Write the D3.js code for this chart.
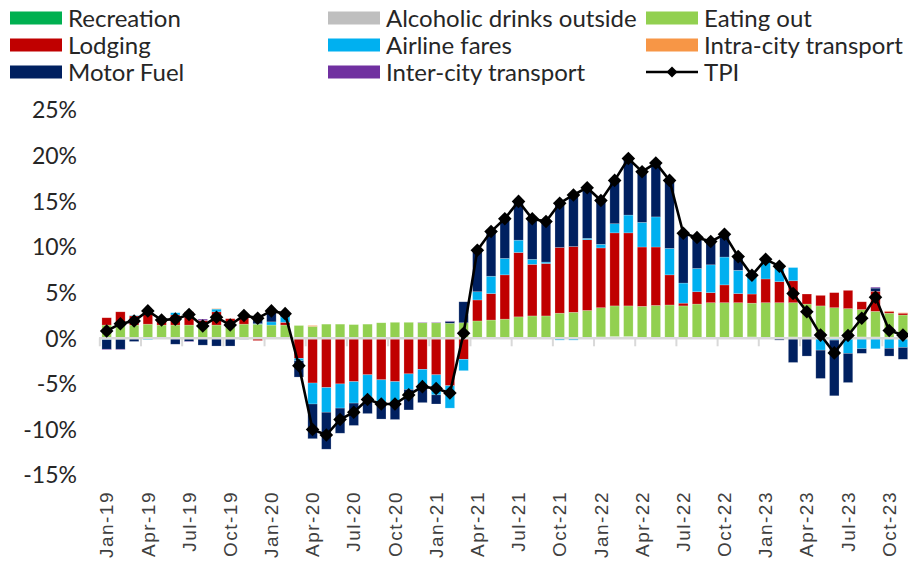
<!DOCTYPE html>
<html>
<head>
<meta charset="utf-8">
<script src="https://cdn.jsdelivr.net/npm/d3@7"></script>
<style>
  body { margin: 0; background: #fff; }
  svg { display: block; }
</style>
</head>
<body>
<div id="chart"></div>
<script>
// months, Jan-19 .. Nov-23
const months = []
const mNames = ["Jan","Feb","Mar","Apr","May","Jun","Jul","Aug","Sep","Oct","Nov","Dec"]
for (let yr = 19; yr <= 23; yr++) {
    mNames.forEach(m => { if (!(yr == 23 && m == "Dec")) months.push(m + "-" + yr) })
}

// contributions to TPI, percentage points
const recreation = [0.05,0,0,0,0,0,0,0,0,0,0,0, 0,0,0,0,0.1,0,0,0,0,0,0,0, 0,0,0,0,0,0,0,0,0,0,0,0, 0.1,0.15,0.15,0.05,0.05,0.05,0.05,0.05,0.05,0.05,0.05,0.05, 0.05,0.05,0.1,0.1,0.1,0.1,0.1,0.1,0.1,0.05,0.05]
const alcohol = [0,0,0,-0.05,0,0,0,0,0,0,0,0, 0,0,0,0,0,0,0,0,0,0,0,0, 0,0,0,0,0,0,0,0,0,0,0,0, 0.05,0.05,0.05,0.05,0.05,0.05,0.05,0.05,0.05,0.05,0.05,0.1, 0.05,0.05,0.05,0.05,0.05,0.05,0.05,0.05,0.05,0.05,0.05]
const eatingOut = [1.4,1.45,1.45,1.55,1.45,1.45,1.45,1.4,1.45,1.45,1.55,1.55, 1.45,1.45,1.4,1.3,1.45,1.55,1.5,1.55,1.7,1.75,1.75,1.7, 1.7,1.65,1.7,1.9,2.0,2.1,2.35,2.45,2.45,2.75,2.85,3.05, 3.2,3.35,3.35,3.4,3.5,3.55,3.45,3.65,3.8,3.8,3.8,3.7, 3.8,3.8,3.75,3.6,3.4,3.2,3.1,3.0,2.8,2.65,2.45]
const lodging = [0.8,1.45,1.0,1.45,0.7,1.1,1.45,0.55,1.45,0.7,0.9,-0.25, -0.05,0.3,-2.2,-4.9,-5.4,-5.0,-4.75,-4.0,-4.55,-4.75,-3.9,-3.4, -4.0,-5.2,-2.3,2.3,2.9,4.85,7.05,5.65,5.75,7.2,7.2,7.75, 6.55,8.0,8.0,6.5,6.4,3.3,0.3,1.35,1.1,1.95,1.0,1.0, 2.6,2.3,2.4,1.1,1.15,1.65,2.0,0.85,2.2,0.2,0.2]
const airline = [-0.15,-0.1,0.05,-0.1,0,0.25,0,0,0.3,0,0,0.05, 0.35,0.6,-0.25,-2.3,-2.7,-2.65,-2.35,-2.45,-2.6,-2.45,-1.7,-2.1, -2.2,-2.45,-1.25,0.9,1.9,1.8,1.35,0.55,0.15,-0.2,-0.2,0.15, 0.4,1.0,1.95,2.7,3.3,2.9,2.2,2.55,3.05,3.05,2.55,2.05, 1.9,1.7,1.45,0,-1.3,-0.2,-1.65,-1.15,-1.15,-1.1,-1.0]
const intraCity = [0,0,0,0,0,0,0,0,0.05,0,0,0, 0,0,0,0.1,0,0,0,0,0,0,0,0, 0,0,0,0,0,0,0,0,0,0,0,0, 0,0,0,0,0,0,0,0,0,0,0,0, 0,0,0,0,0,0,0,0,0,0.05,0.05]
const motorFuel = [-1.05,-1.1,-0.35,0,0,-0.65,-0.35,-0.75,-0.85,-0.85,-0.1,0.8, 1.1,0.35,-1.8,-3.8,-4.05,-2.75,-2.45,-1.8,-1.7,-1.7,-2.25,-1.55, -1.0,0.2,2.3,4.55,4.85,4.3,4.25,4.4,4.4,4.8,5.65,5.6, 4.75,4.75,6.2,5.6,6.0,7.5,5.5,3.4,2.55,2.55,1.45,0, 0.2,-0.2,-2.65,-1.95,-3.1,-6.1,-3.2,-0.5,0.35,-0.85,-1.3]
const interCity = [-0.05,-0.05,0,0,0,0,-0.05,0.15,0,0,0,0, 0,0,0,0,0,0,0,0,0,0,0,0.05, 0.05,0.05,0,0,0,0,0,0,0,0,0,0, 0,0,0,0,0,0,0,0,0,0,0,0, 0,0,0,0,0,0,0,0,0.1,0,0]
const tpi = [0.8,1.6,1.9,3.0,2.0,2.1,2.6,1.35,2.3,1.45,2.5,2.2, 3.0,2.7,-3.0,-10.0,-10.6,-8.9,-8.1,-6.7,-7.2,-7.2,-6.2,-5.3, -5.5,-6.0,0.55,9.65,11.7,13.1,15.0,13.1,12.8,14.8,15.7,16.5, 15.1,17.3,19.7,18.25,19.2,17.3,11.5,11.05,10.6,11.4,8.95,6.9, 8.65,7.9,4.9,2.9,0.35,-1.6,0.3,2.2,4.5,0.85,0.35]

const yTicks = [-15,-10,-5,0,5,10,15,20,25]

const series = [
    {key: "rec",   name: "Recreation",               color: "#00B050", values: recreation},
    {key: "alc",   name: "Alcoholic drinks outside", color: "#BFBFBF", values: alcohol},
    {key: "eat",   name: "Eating out",               color: "#92D050", values: eatingOut},
    {key: "lodg",  name: "Lodging",                  color: "#C00000", values: lodging},
    {key: "air",   name: "Airline fares",            color: "#00B0F0", values: airline},
    {key: "intra", name: "Intra-city transport",     color: "#F79646", values: intraCity},
    {key: "fuel",  name: "Motor Fuel",               color: "#002060", values: motorFuel},
    {key: "inter", name: "Inter-city transport",     color: "#7030A0", values: interCity}
]

const table = months.map((m, i) => {
    const row = {month: m, tpi: tpi[i]}
    series.forEach(s => row[s.key] = s.values[i])
    return row
})

const W = 908, H = 567
const svg = d3.select("#chart").append("svg").attr("width", W).attr("height", H)

const x = d3.scaleBand().domain(months).range([99.8, 909.8]).paddingInner(0.31).paddingOuter(0.155)
const y = d3.scaleLinear().domain([-15, 25]).range([475.2, 110.1])

const stack = d3.stack().keys(series.map(s => s.key)).offset(d3.stackOffsetDiverging)
const stacked = stack(table)

// bars
svg.append("g").selectAll("g")
    .data(stacked)
    .join("g")
    .attr("fill", (d, i) => series[i].color)
    .selectAll("rect")
    .data(d => d)
    .join("rect")
    .attr("x", d => x(d.data.month))
    .attr("width", x.bandwidth())
    .attr("y", d => y(Math.max(d[0], d[1])))
    .attr("height", d => Math.abs(y(d[0]) - y(d[1])))
    .attr("stroke", "#fff")
    .attr("stroke-opacity", 0.35)
    .attr("stroke-width", 0.6)

// zero axis line and ticks
const y0 = y(0)
svg.append("line")
    .attr("x1", 99).attr("x2", W).attr("y1", y0).attr("y2", y0)
    .attr("stroke", "#d9d9d9").attr("stroke-width", 2.5)

const labelled = months.filter((m, i) => i % 3 == 0)
svg.append("g").selectAll("line")
    .data(labelled)
    .join("line")
    .attr("x1", m => x(m) + x.bandwidth() / 2 - x.step() / 2)
    .attr("x2", m => x(m) + x.bandwidth() / 2 - x.step() / 2)
    .attr("y1", y0).attr("y2", y0 + 8)
    .attr("stroke", "#d9d9d9").attr("stroke-width", 2)

// x labels at low position
svg.append("g").selectAll("text")
    .data(labelled)
    .join("text")
    .attr("transform", m => `translate(${x(m) + x.bandwidth() / 2},491) rotate(-90)`)
    .attr("text-anchor", "end")
    .attr("dy", "0.35em")
    .attr("font-family", "'Liberation Sans', Arial, sans-serif")
    .attr("font-size", 19)
    .attr("letter-spacing", 1.5)
    .attr("fill", "#404040")
    .text(m => m)

// y labels
svg.append("g").selectAll("text")
    .data(yTicks)
    .join("text")
    .attr("x", 77)
    .attr("y", d => y(d))
    .attr("dy", "0.36em")
    .attr("text-anchor", "end")
    .attr("font-family", "Lato, sans-serif")
    .attr("font-size", 23)
    .attr("fill", "#262626")
    .text(d => d + "%")

// TPI line
const line = d3.line()
    .x(d => x(d.month) + x.bandwidth() / 2)
    .y(d => y(d.tpi))
svg.append("path")
    .datum(table)
    .attr("d", line)
    .attr("fill", "none")
    .attr("stroke", "#000")
    .attr("stroke-width", 2.6)

const diamond = r => `M0,${-r}L${r},0L0,${r}L${-r},0Z`
svg.append("g").selectAll("path")
    .data(table)
    .join("path")
    .attr("transform", d => `translate(${x(d.month) + x.bandwidth() / 2},${y(d.tpi)})`)
    .attr("d", diamond(6.8))
    .attr("fill", "#000")

// legend
const legendItems = series.concat([{name: "TPI", line: true}])
const colX = [10, 328, 646]
const rowY = [18, 45, 72]
const lg = svg.append("g").selectAll("g")
    .data(legendItems)
    .join("g")
    .attr("transform", (d, i) => `translate(${colX[i % 3]},${rowY[Math.floor(i / 3)]})`)

lg.filter(d => !d.line).append("rect")
    .attr("x", 0).attr("y", -6.5).attr("width", 52).attr("height", 13)
    .attr("fill", d => d.color)

const tl = lg.filter(d => d.line)
tl.append("line")
    .attr("x1", 0).attr("x2", 52).attr("y1", 0).attr("y2", 0)
    .attr("stroke", "#000").attr("stroke-width", 2.6)
tl.append("path")
    .attr("transform", "translate(26,0)")
    .attr("d", diamond(5.5))
    .attr("fill", "#000")

lg.append("text")
    .attr("x", 58)
    .attr("dy", "0.36em")
    .attr("font-family", "Lato, sans-serif")
    .attr("font-size", 24)
    .attr("fill", "#262626")
    .text(d => d.name)
</script>
</body>
</html>
